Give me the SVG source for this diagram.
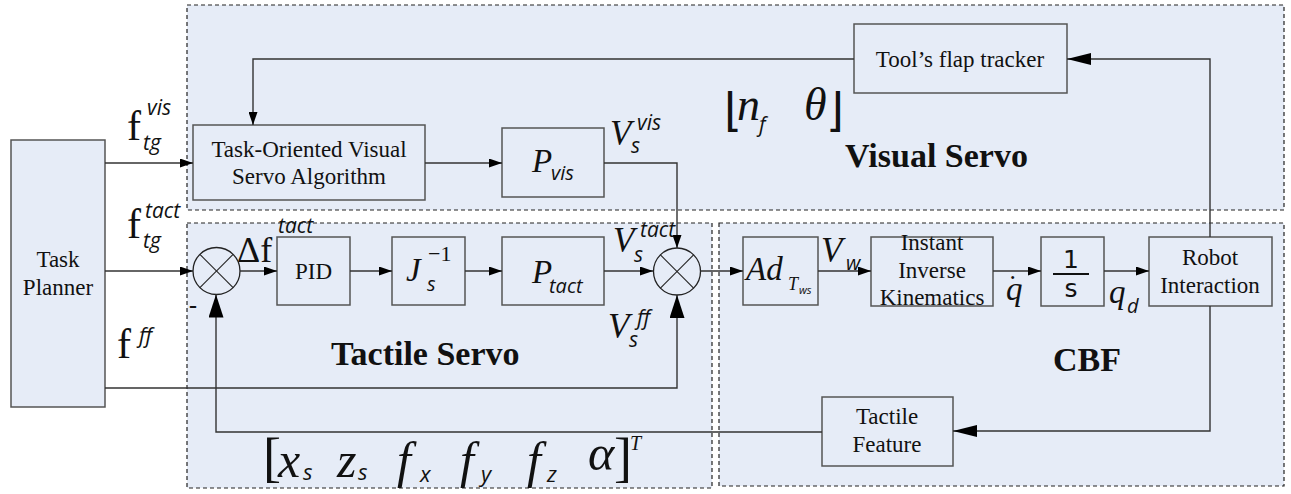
<svg xmlns="http://www.w3.org/2000/svg" width="1291" height="494" viewBox="0 0 1291 494">
<style>
.region{fill:#e6ecf7;stroke:#222;stroke-width:1.2;stroke-dasharray:4 3}
.box{fill:#e6ecf7;stroke:#555;stroke-width:1.5}
.lbl{font-family:"Liberation Serif",serif;font-size:23px;fill:#111;text-anchor:middle}
.ttl{font-family:"Liberation Serif",serif;font-size:34px;font-weight:bold;fill:#111}
.rm{font-family:"Liberation Serif",serif;fill:#111}
.it{font-family:"Liberation Serif",serif;font-style:italic;fill:#111}
.sub{font-family:"Open Sans",sans-serif;font-style:italic;fill:#111}
.conn path{fill:none;stroke:#333;stroke-width:1.4}
.sum circle{fill:none;stroke:#222;stroke-width:1.3}
.sum line{stroke:#222;stroke-width:1.1}
</style>
<defs>
<marker id="a" viewBox="0 0 13 9" refX="13" refY="4.5" markerWidth="13" markerHeight="9" markerUnits="userSpaceOnUse" orient="auto"><path d="M0,0 L13,4.5 L0,9 z" fill="#000"/></marker>
<marker id="m" viewBox="0 0 24 12" refX="24" refY="6" markerWidth="24" markerHeight="12" markerUnits="userSpaceOnUse" orient="auto"><path d="M0,0 L24,6 L0,12 z" fill="#000"/></marker>
<marker id="b" viewBox="0 0 23 15" refX="23" refY="7.5" markerWidth="23" markerHeight="15" markerUnits="userSpaceOnUse" orient="auto"><path d="M0,0 L23,7.5 L0,15 z" fill="#000"/></marker>
</defs>

<g id="regions">
<rect id="visual-servo" class="region" x="187" y="5" width="1097" height="205"/>
<rect id="tactile-servo" class="region" x="187" y="223" width="525" height="265"/>
<rect id="cbf" class="region" x="719" y="223" width="565" height="263"/>
<text class="ttl" x="845" y="167">Visual Servo</text>
<text class="ttl" x="331" y="365">Tactile Servo</text>
<text class="ttl" x="1053" y="371">CBF</text>
</g>

<g id="task-planner">
<rect class="box" x="11" y="140" width="94" height="267"/>
<text class="lbl" x="58" y="267" font-size="24">Task</text>
<text class="lbl" x="58" y="295" font-size="24">Planner</text>
</g>

<g id="tovsa">
<rect class="box" x="193" y="125" width="232" height="75"/>
<text class="lbl" x="309" y="157">Task-Oriented Visual</text>
<text class="lbl" x="309" y="184">Servo Algorithm</text>
</g>

<g id="p-vis">
<rect class="box" x="502" y="128" width="102" height="69"/>
<text class="it" x="532" y="172" font-size="33">P</text>
<text class="sub" x="551" y="180" font-size="20">vis</text>
</g>

<g id="flap-tracker">
<rect class="box" x="854" y="24" width="213" height="69"/>
<text class="lbl" x="960" y="67">Tool’s flap tracker</text>
</g>

<g id="sum1" class="sum">
<circle cx="216.5" cy="271" r="23.5"/>
<line x1="199.9" y1="254.4" x2="233.1" y2="287.6"/>
<line x1="199.9" y1="287.6" x2="233.1" y2="254.4"/>
</g>

<g id="pid">
<rect class="box" x="277" y="237" width="73" height="68"/>
<text class="lbl" x="313.5" y="279">PID</text>
</g>

<g id="jinv">
<rect class="box" x="392" y="237" width="73" height="68"/>
<text class="it" x="406" y="281" font-size="33">J</text>
<text class="sub" x="427" y="291" font-size="20">s</text>
<text class="rm" x="428" y="261" font-size="22" font-family="DejaVu Sans">−1</text>
</g>

<g id="p-tact">
<rect class="box" x="502" y="237" width="102" height="68"/>
<text class="it" x="532" y="283" font-size="33">P</text>
<text class="sub" x="549" y="293" font-size="20">tact</text>
</g>

<g id="sum2" class="sum">
<circle cx="677" cy="271.5" r="23.5"/>
<line x1="660.4" y1="254.9" x2="693.6" y2="288.1"/>
<line x1="660.4" y1="288.1" x2="693.6" y2="254.9"/>
</g>

<g id="adjoint">
<rect class="box" x="743" y="237" width="75" height="68"/>
<text class="it" x="746" y="280" font-size="33">Ad</text>
<text class="it" x="788" y="290" font-size="18">T</text>
<text class="sub" x="799" y="294" font-size="11">ws</text>
</g>

<g id="iik">
<rect class="box" x="871" y="237" width="122" height="69"/>
<text class="lbl" x="932" y="250">Instant</text>
<text class="lbl" x="932" y="278">Inverse</text>
<text class="lbl" x="932" y="305">Kinematics</text>
</g>

<g id="integrator">
<rect class="box" x="1041" y="237" width="63" height="69"/>
<text x="1071" y="268" font-family="DejaVu Sans,sans-serif" font-size="25" text-anchor="middle" fill="#111">1</text>
<line x1="1053" y1="274" x2="1089" y2="274" stroke="#111" stroke-width="2"/>
<text x="1071" y="297" font-family="DejaVu Sans,sans-serif" font-size="25" text-anchor="middle" fill="#111">s</text>
</g>

<g id="robot">
<rect class="box" x="1149" y="237" width="123" height="69"/>
<text class="lbl" x="1210" y="265">Robot</text>
<text class="lbl" x="1210" y="293">Interaction</text>
</g>

<g id="tactile-feature">
<rect class="box" x="822" y="397" width="131" height="69"/>
<text class="lbl" x="887" y="424">Tactile</text>
<text class="lbl" x="887" y="452">Feature</text>
</g>

<g id="connectors" class="conn">
<path d="M105,163 H193" marker-end="url(#a)"/>
<path d="M425,163 H502" marker-end="url(#a)"/>
<path d="M604,163 H677 V248" marker-end="url(#a)"/>
<path d="M854,59 H253 V125" marker-end="url(#a)"/>
<path d="M1210,237 V59 H1067" marker-end="url(#m)"/>
<path d="M105,271 H193" marker-end="url(#a)"/>
<path d="M240,271 H277" marker-end="url(#a)"/>
<path d="M350,271 H392" marker-end="url(#a)"/>
<path d="M465,271 H502" marker-end="url(#a)"/>
<path d="M604,271 H653" marker-end="url(#a)"/>
<path d="M105,388 H677 V295" marker-end="url(#b)"/>
<path d="M822,432 H216 V294.5" marker-end="url(#b)"/>
<path d="M700.5,271 H743" marker-end="url(#a)"/>
<path d="M818,271 H871" marker-end="url(#a)"/>
<path d="M993,271 H1041" marker-end="url(#a)"/>
<path d="M1104,271 H1149" marker-end="url(#a)"/>
<path d="M1210,306 V431 H953" marker-end="url(#m)"/>
</g>

<g id="labels">
<text class="rm" x="127" y="140" font-size="42">f</text>
<text class="sub" x="147" y="115" font-size="21">vis</text>
<text class="sub" x="143" y="150" font-size="21">tg</text>

<text class="rm" x="127" y="238" font-size="42">f</text>
<text class="sub" x="145" y="218" font-size="21">tact</text>
<text class="sub" x="143" y="248" font-size="21">tg</text>

<text class="rm" x="117" y="358" font-size="42">f</text>
<text class="sub" x="139" y="343" font-size="21">ff</text>

<text class="rm" x="189" y="313" font-size="24" font-weight="bold">-</text>

<text class="rm" x="237" y="262" font-size="36">Δf</text>
<text class="sub" x="278" y="233" font-size="21">tact</text>

<text class="it" x="610" y="145" font-size="35">V</text>
<text class="sub" x="637" y="130" font-size="21">vis</text>
<text class="sub" x="631" y="153" font-size="21">s</text>

<text class="it" x="613" y="252" font-size="35">V</text>
<text class="sub" x="640" y="237" font-size="21">tact</text>
<text class="sub" x="634" y="262" font-size="21">s</text>

<text class="it" x="608" y="338" font-size="35">V</text>
<text class="sub" x="637" y="325" font-size="21">ff</text>
<text class="sub" x="629" y="347" font-size="21">s</text>

<text class="it" x="821" y="262" font-size="35">V</text>
<text class="sub" x="846" y="270" font-size="20">w</text>

<text class="it" x="1006" y="300" font-size="33">q</text>
<text class="rm" x="1008" y="294" font-size="28">˙</text>
<text class="it" x="1109" y="303" font-size="33">q</text>
<text class="sub" x="1127" y="313" font-size="20">d</text>

<text class="rm" x="724" y="126" font-size="46" font-family="DejaVu Serif,serif">⌊</text>
<text class="it" x="737" y="120" font-size="46">n</text>
<text class="sub" x="759" y="132" font-size="21">f</text>
<text class="it" x="804" y="120" font-size="46">θ</text>
<text class="rm" x="826" y="126" font-size="46" font-family="DejaVu Serif,serif">⌋</text>

<text class="rm" x="263" y="476" font-size="54">[</text>
<text class="it" x="278" y="477" font-size="50">x</text>
<text class="sub" x="303" y="480" font-size="22">s</text>
<text class="it" x="337" y="477" font-size="50">z</text>
<text class="sub" x="358" y="480" font-size="22">s</text>
<text class="it" x="397" y="477" font-size="50">f</text>
<text class="sub" x="420" y="482" font-size="22">x</text>
<text class="it" x="460" y="477" font-size="50">f</text>
<text class="sub" x="481" y="482" font-size="22">y</text>
<text class="it" x="527" y="477" font-size="50">f</text>
<text class="sub" x="547" y="482" font-size="22">z</text>
<text class="it" x="588" y="470" font-size="50">α</text>
<text class="rm" x="614" y="476" font-size="54">]</text>
<text class="it" x="630" y="450" font-size="20">T</text>
</g>
</svg>
